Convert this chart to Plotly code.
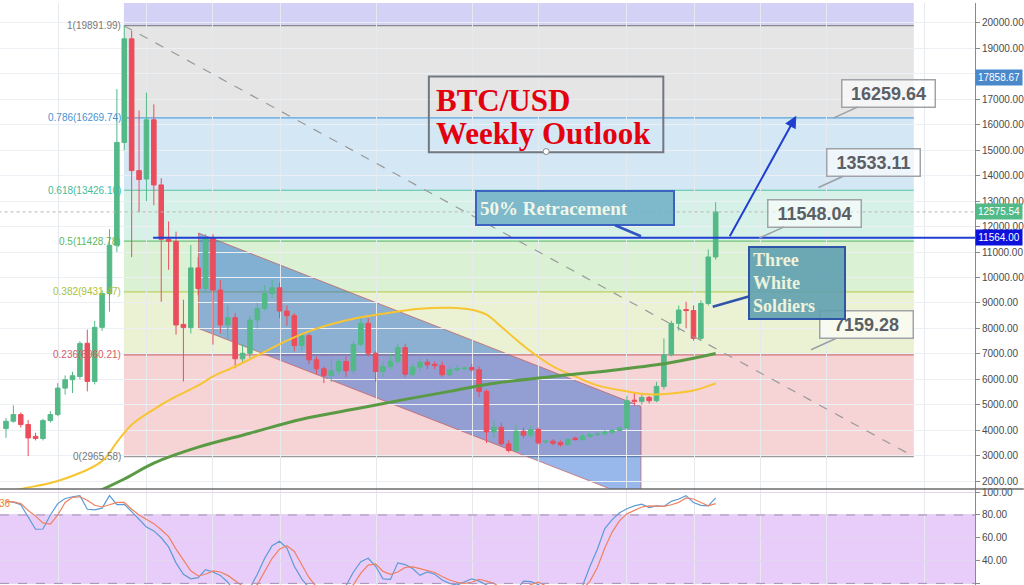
import plotly.graph_objects as go

# ---------------- data ----------------
idx = list(range(97))
opens = [4066, 4352, 4614, 4223, 3760, 3676, 4379, 4614, 5654, 5983,
         6110, 7415, 5916, 8041, 9371, 11264, 15305, 19374, 14198, 13869,
         16193, 13635, 11499, 11420, 8158, 8030, 10376, 9566, 11550, 9504,
         8134, 8420, 6805, 7023, 8330, 8784, 9371, 9594, 8682, 8498,
         7325, 7716, 6765, 6413, 6151, 6335, 6699, 6335, 7376, 8197,
         7023, 6308, 6503, 6699, 7246, 6202, 6476, 6672, 6590, 6540,
         6178, 6374, 6420, 6460, 6374, 5525, 3933, 4117, 3464, 3206,
         3960, 3804, 4027, 3540, 3570, 3520, 3430, 3690, 3630, 3765,
         3831, 3860, 3921, 3987, 4090, 5180, 5134, 5290, 5160, 5721,
         6961, 8197, 8740, 8700, 7610, 8979, 10806]
highs = [4481, 4978, 4700, 4400, 3900, 4450, 4750, 5850, 6150, 6300,
         7500, 7951, 8300, 9500, 11900, 17400, 19892, 19700, 16557, 17261,
         16800, 13900, 12200, 11800, 9124, 11276, 10800, 11700, 11700, 9900,
         8900, 8600, 7400, 8500, 9000, 9700, 9907, 9800, 8900, 8600,
         7800, 7800, 6900, 6500, 6800, 6800, 6900, 7500, 8500, 8400,
         7100, 6700, 7000, 7400, 7400, 6600, 6800, 6800, 6700, 6700,
         6500, 6550, 6500, 6600, 6500, 5600, 4400, 4300, 3600, 4200,
         4100, 4190, 4100, 3650, 3650, 3600, 3700, 3750, 3850, 3900,
         3950, 4000, 4050, 4150, 5350, 5450, 5400, 5350, 5900, 7610,
         8300, 8900, 9046, 8900, 9100, 11100, 12958]
lows = [3698, 4300, 4100, 2982, 3600, 3600, 4300, 4550, 5400, 5459,
        6000, 5525, 5800, 7900, 8655, 11000, 15000, 10800, 12567, 13000,
        12840, 9046, 10300, 7755, 5916, 7800, 9300, 9400, 7364, 7800,
        7600, 6437, 6600, 6800, 8000, 8700, 9200, 8400, 8100, 7100,
        7100, 6600, 6200, 5850, 5900, 6200, 6100, 6200, 7300, 6900,
        5900, 6100, 6400, 6600, 6100, 6100, 6300, 6400, 6400, 6100,
        6100, 6300, 6350, 6300, 5300, 3500, 3700, 3400, 3130, 3150,
        3700, 3700, 3450, 3450, 3400, 3350, 3380, 3600, 3600, 3700,
        3750, 3800, 3850, 3950, 4050, 4950, 5000, 5050, 5100, 5600,
        6900, 7900, 8001, 7520, 7500, 8900, 10700]
closes = [4352, 4614, 4223, 3698, 3676, 4379, 4614, 5654, 5983, 6139,
          7403, 5916, 8041, 9371, 11264, 15305, 19374, 14198, 13846, 16193,
          13635, 11499, 11420, 8134, 8030, 10376, 9566, 11550, 9504, 8134,
          8420, 6805, 7023, 8330, 8784, 9371, 9594, 8682, 8498, 7325,
          7716, 6765, 6413, 6151, 6335, 6699, 6335, 7376, 8197, 7023,
          6308, 6503, 6699, 7246, 6202, 6476, 6672, 6569, 6540, 6178,
          6374, 6420, 6440, 6374, 5525, 3933, 4117, 3464, 3206, 3960,
          3804, 4027, 3503, 3570, 3490, 3430, 3636, 3630, 3765, 3831,
          3860, 3921, 3987, 4090, 5161, 5134, 5290, 5160, 5721, 6961,
          8197, 8721, 8700, 7610, 8979, 10806, 12575.54]

ma_yellow_idx = [0, 2, 7, 13, 15, 17, 20, 22, 26, 28, 31, 34, 38, 42, 47, 51,
                 56, 60, 63, 65, 67, 69, 71, 74, 77, 80, 84, 87, 90, 93, 96]
ma_yellow = [1535, 1691, 2004, 2787, 3530, 4214, 4821, 5173, 5760, 6112, 6503,
             6934, 7520, 7990, 8381, 8577, 8772, 8811, 8733, 8538, 8068, 7560,
             7090, 6503, 6112, 5760, 5525, 5408, 5447, 5564, 5838]
ma_green_idx = [12, 16, 20, 26, 33, 40, 47, 54, 60, 65, 74, 83, 90, 96]
ma_green = [1535, 2083, 2709, 3334, 3882, 4430, 4821, 5212, 5525, 5799, 6112,
            6386, 6660, 7012]

stoch_k = [92, 91.3, 89, 78, 67.5, 67.7, 80, 90, 94.5, 96,
           97, 85, 84.5, 86, 97, 89, 89.3, 83, 76, 69.5,
           66, 60, 52, 38, 28, 24, 25, 32, 30, 27,
           21, 12, 10, 16, 28, 42, 53, 57, 51, 35,
           24, 15, 8, 5, 6, 12, 18, 30, 39, 42,
           35, 24, 23.5, 38, 36.5, 33, 27, 30, 28, 23,
           20, 18.5, 21, 24, 22, 19, 15, 12, 8, 14,
           22, 21.5, 19, 15, 12, 10, 12, 14, 18, 35,
           50, 68, 76, 82, 85.5, 88, 89.5, 86.5, 88, 87.5,
           92, 94, 97, 91, 88.5, 88, 95]
stoch_d = [92, 91.5, 90, 84, 79, 73, 72, 80, 91, 95.5,
           96, 93, 88.5, 87, 89, 91, 91, 85, 80, 76,
           72.4, 67, 61, 50, 40, 31, 26.5, 28, 31, 30,
           27, 22, 17, 13, 19, 30, 42, 50, 53, 48,
           37, 25, 17, 10, 7, 8, 12, 19, 29, 36,
           37, 30.5, 28, 30, 34, 34.5, 33, 31, 29.5, 26,
           23, 21, 20, 21, 23.6, 22, 20, 16, 12, 11,
           15, 19, 21, 18, 15, 12, 11, 12, 15, 22,
           34, 51, 65, 75, 81, 84, 87, 88, 88, 87.5,
           89, 91, 95, 94, 91, 88, 90]

fib_labels = ["0", "0.236", "0.382", "0.5", "0.618", "0.786", "1"]
fib_prices = [2965.58, 6960.21, 9431.47, 11428.78, 13426.10, 16269.74, 19891.99]
fib_top_price = 30352.0
fib_x0, fib_x1 = 15.95, 122.8

channel_x = [26.04, 85.9]
channel_top = [11745, 4938]
channel_bottom = [7996, 1222]

resistance_price = 11564.00
last_price = 12575.54
marker_price = 17858.67

callout_values = ["16259.64", "13533.11", "11548.04", "7159.28"]
callout_x = [111.9, 109.9, 101.9, 108.9]
callout_y = [16259.64, 13533.11, 11548.04, 7159.28]

arrow_start = (97.8, 11564)
arrow_end = (106.9, 16350)

price_ticks = list(range(2000, 20001, 1000))
price_ticktext = ["" if v == 18000 else f"{v:.2f}" for v in price_ticks]

# ---------------- styling ----------------
UP, DOWN = "#53b987", "#eb4d5c"
W, H = 1024, 585
PW = 976.0


def px(x):
    return x / PW


def py(y):
    return 1 - y / H


fig = go.Figure()

fig.add_trace(go.Candlestick(
    x=idx, open=opens, high=highs, low=lows, close=closes,
    increasing=dict(line=dict(color=UP, width=1), fillcolor=UP),
    decreasing=dict(line=dict(color=DOWN, width=1), fillcolor=DOWN),
    whiskerwidth=0, hoverinfo="skip", xaxis="x", yaxis="y"))

fig.add_trace(go.Scatter(x=ma_yellow_idx, y=ma_yellow, mode="lines",
                         line=dict(color="#f7c531", width=2, shape="spline"),
                         hoverinfo="skip", xaxis="x", yaxis="y"))
fig.add_trace(go.Scatter(x=ma_green_idx, y=ma_green, mode="lines",
                         line=dict(color="#5a9a45", width=3, shape="spline"),
                         hoverinfo="skip", xaxis="x", yaxis="y"))

fig.add_trace(go.Scatter(x=idx, y=stoch_k, mode="lines",
                         line=dict(color="#5b9bd5", width=1.2),
                         hoverinfo="skip", xaxis="x2", yaxis="y2"))
fig.add_trace(go.Scatter(x=idx, y=stoch_d, mode="lines",
                         line=dict(color="#f08060", width=1.2),
                         hoverinfo="skip", xaxis="x2", yaxis="y2"))

shapes = []
zone_colors = ["#f6d3d4", "#eaf2d3", "#daf1d3", "#d6f2e8", "#d4e7f5", "#e5e5e5", "#d3d2f6"]
line_colors = ["#9a9a9a", "#d07575", "#bccf60", "#72c276", "#55c0a4", "#5aa2dc", "#8a8a8a"]
bounds = fib_prices + [fib_top_price]
for k in range(7):
    shapes.append(dict(type="rect", xref="x", yref="y", x0=fib_x0, x1=fib_x1,
                       y0=bounds[k], y1=bounds[k + 1], fillcolor=zone_colors[k],
                       line=dict(width=0), layer="below"))
for k in range(7):
    shapes.append(dict(type="line", xref="x", yref="y", x0=fib_x0, x1=fib_x1,
                       y0=fib_prices[k], y1=fib_prices[k], layer="below",
                       line=dict(color=line_colors[k], width=1.2)))

# diagonal of the fib tool
shapes.append(dict(type="line", xref="x", yref="y", x0=fib_x0, x1=fib_x1,
                   y0=fib_prices[-1], y1=fib_prices[0],
                   line=dict(color="#9a9a9a", width=1.2, dash="dash")))

# descending channel
path = (f"M {channel_x[0]},{channel_top[0]} L {channel_x[1]},{channel_top[1]} "
        f"L {channel_x[1]},{channel_bottom[1]} L {channel_x[0]},{channel_bottom[0]} Z")
shapes.append(dict(type="path", xref="x", yref="y", path=path,
                   fillcolor="rgba(10,85,210,0.42)",
                   line=dict(color="rgba(200,90,90,0.7)", width=1), layer="below"))

# resistance line (ray)
shapes.append(dict(type="line", xref="x", yref="y", x0=19.9, x1=131.1,
                   y0=resistance_price, y1=resistance_price,
                   line=dict(color="#1f3fd0", width=2)))
# last price dotted line
shapes.append(dict(type="line", xref="x", yref="y", x0=-1, x1=131.1,
                   y0=last_price, y1=last_price,
                   line=dict(color="#b5b5b5", width=1, dash="dot")))

# stochastic band
shapes.append(dict(type="rect", xref="paper", yref="y2", x0=0, x1=1, y0=20, y1=80,
                   fillcolor="#e8cdfa", line=dict(width=0), layer="below"))
for v in (20, 80):
    shapes.append(dict(type="line", xref="paper", yref="y2", x0=0, x1=1, y0=v, y1=v,
                       line=dict(color="#a48fb8", width=1, dash="dash")))

# pane separator
shapes.append(dict(type="line", xref="paper", yref="paper", x0=0, x1=1.05,
                   y0=py(488.5), y1=py(488.5), line=dict(color="#6b6b6b", width=1.5)))

# title box
shapes.append(dict(type="rect", xref="paper", yref="paper", x0=px(429.3), x1=px(664),
                   y0=py(150), y1=py(74), line=dict(color="#727880", width=2)))
shapes.append(dict(type="circle", xref="paper", yref="paper", x0=px(543.7), x1=px(549.7),
                   y0=py(152.3), y1=py(146.3), fillcolor="white",
                   line=dict(color="#8a8a8a", width=1)))

annotations = []
label_colors = ["#787878", "#d65a66", "#a9c140", "#5cb860", "#3fbc9e", "#4a92d2", "#787878"]
for k in range(7):
    annotations.append(dict(xref="x", yref="y", x=fib_x0, y=fib_prices[k],
                            text=f"{fib_labels[k]}({fib_prices[k]:.2f})",
                            showarrow=False, xanchor="right", yanchor="middle", xshift=-1,
                            font=dict(family="Liberation Sans", size=10,
                                      color=label_colors[k])))

# title
annotations.append(dict(xref="paper", yref="paper", x=px(434), y=py(98),
                        text="<b>BTC/USD</b>", showarrow=False, xanchor="left",
                        yanchor="middle",
                        font=dict(family="Liberation Serif", size=31, color="#e3000f")))
annotations.append(dict(xref="paper", yref="paper", x=px(434), y=py(131),
                        text="<b>Weekly Outlook</b>", showarrow=False, xanchor="left",
                        yanchor="middle",
                        font=dict(family="Liberation Serif", size=31, color="#e3000f")))

# price callouts
for txt, cx, cy in zip(callout_values, callout_x, callout_y):
    annotations.append(dict(xref="x", yref="y", x=cx, y=cy, text=f"<b>{txt}</b>",
                            showarrow=True, arrowhead=0, arrowwidth=1.5,
                            arrowcolor="#9aa0a6", ax=55, ay=-25,
                            bgcolor="rgba(255,255,255,0.6)", bordercolor="#a0a4a8",
                            borderwidth=1.5, borderpad=3, width=86, height=20,
                            font=dict(family="Liberation Sans", size=18, color="#5b5f66")))

# Three White Soldiers
annotations.append(dict(xref="x", yref="y", x=95.6, y=8850,
                        text="<b>Three<br>White<br>Soldiers</b>", align="left",
                        showarrow=True, arrowhead=0, arrowwidth=2.5,
                        arrowcolor="#2f55a8", ax=84, ay=-24,
                        bgcolor="rgba(95,160,175,0.9)", bordercolor="#2f55a8",
                        borderwidth=2, borderpad=3, width=88, height=64,
                        font=dict(family="Liberation Serif", size=18, color="#eef3dc")))

# 50% Retracement
annotations.append(dict(xref="x", yref="y", x=85.9, y=11620,
                        text="<b>50% Retracement</b>", align="left",
                        showarrow=True, arrowhead=0, arrowwidth=2.5,
                        arrowcolor="#2f55c0", ax=-66, ay=-28,
                        bgcolor="rgba(115,178,198,0.9)", bordercolor="#3a64c0",
                        borderwidth=2, borderpad=3, width=190, height=26,
                        font=dict(family="Liberation Serif", size=19, color="#f0f6e8")))

# blue target arrow
annotations.append(dict(xref="x", yref="y", x=arrow_end[0], y=arrow_end[1],
                        axref="x", ayref="y", ax=arrow_start[0], ay=arrow_start[1],
                        text="", showarrow=True, arrowhead=2, arrowsize=1.2,
                        arrowwidth=2, arrowcolor="#1f3fd0"))

# right axis price tags
for val, col in ((marker_price, "#4a88cc"), (last_price, "#53b987"),
                 (resistance_price, "#0c12dc")):
    annotations.append(dict(xref="paper", yref="y", x=1, y=val, xanchor="left",
                            yanchor="middle", text=f"{val:.2f}", showarrow=False,
                            bgcolor=col, borderpad=2, width=42,
                            font=dict(family="Liberation Sans", size=10, color="white")))

annotations.append(dict(xref="paper", yref="paper", x=0, y=py(503), xanchor="left",
                        yanchor="middle", text="36", showarrow=False, xshift=-3,
                        font=dict(family="Liberation Sans", size=10, color="#f08030")))

grid_x = [7.16, 19.05, 27.97, 37.16, 50.14, 63.1, 72.03, 83.92, 93.11, 102.03,
          110.95, 124.19]

fig.update_layout(
    width=W, height=H,
    margin=dict(l=0, r=48, t=0, b=0),
    paper_bgcolor="white", plot_bgcolor="white",
    showlegend=False, hovermode=False, boxgap=0.12,
    shapes=shapes, annotations=annotations,
    xaxis=dict(domain=[0, 1], range=[-0.81, 131.08], anchor="y",
               tickvals=grid_x, showticklabels=False, ticks="",
               showgrid=True, gridcolor="#e6e9ee", zeroline=False,
               rangeslider=dict(visible=False)),
    xaxis2=dict(domain=[0, 1], range=[-0.81, 131.08], anchor="y2", matches="x",
                tickvals=grid_x, showticklabels=False, ticks="",
                showgrid=True, gridcolor="#e6e9ee", zeroline=False),
    yaxis=dict(domain=[py(488.5), 1], range=[1691, 20782], anchor="x", side="right",
               tickvals=price_ticks, ticktext=price_ticktext,
               showgrid=True, gridcolor="#eceff3", zeroline=False,
               ticks="outside", ticklen=4, tickcolor="#8a8a8a",
               showline=True, linecolor="#8a8a8a", linewidth=1,
               tickfont=dict(family="Liberation Sans", size=10, color="#4a4a4a")),
    yaxis2=dict(domain=[0, py(489)], range=[18.57, 102.36], anchor="x2", side="right",
                tickvals=[20, 40, 60, 80, 100], tickformat=".2f",
                showgrid=True, gridcolor="#e3d6ee", zeroline=False,
                ticks="outside", ticklen=4, tickcolor="#8a8a8a",
                showline=True, linecolor="#8a8a8a", linewidth=1,
                tickfont=dict(family="Liberation Sans", size=10, color="#4a4a4a")),
)

fig.write_html("out.html", config={"displayModeBar": False},
               post_script="document.body.style.margin='0px';")
